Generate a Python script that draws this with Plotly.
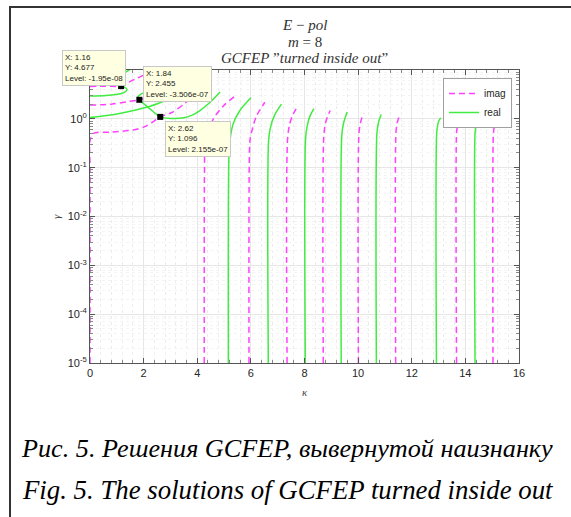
import plotly.graph_objects as go

# ---------------- data ----------------
# imaginary-part zero contours (magenta dashed): kappa and gamma per curve
imag_kappa = [
    [0, 0.6, 1.16, 1.3, 1.67, 2.1, 2.45],
    [0, 0.8, 1.4, 1.84, 2.2, 2.7, 3.2],
    [0, 0, 0, 0.12, 0.8, 1.6, 2.0, 2.3, 2.62, 3.05, 3.5, 4.0, 4.35],
    [4.26, 4.27, 4.29, 4.4, 4.6, 5.0, 5.4],
    [5.93, 5.95, 5.98, 6.05, 6.2, 6.52],
    [7.35, 7.37, 7.45, 7.58, 7.76],
    [8.70, 8.72, 8.78, 8.86, 8.96],
    [10.01, 10.03, 10.08, 10.14, 10.21],
    [11.40, 11.41, 11.45, 11.49, 11.53],
    [13.67, 13.67, 13.70, 13.73, 13.76],
    [15.03, 15.04, 15.06, 15.08, 15.10],
]
imag_gamma = [
    [4.6, 4.65, 4.677, 5.1, 6.46, 8.3, 10.5],
    [1.91, 2.0, 2.25, 2.455, 2.85, 3.6, 4.6],
    [1e-5, 0.1, 0.355, 0.501, 0.537, 0.589, 0.676, 0.832, 1.096, 1.349, 1.995, 3.467, 4.169],
    [1e-5, 0.1, 0.263, 0.501, 1.0, 1.9, 2.884],
    [1e-5, 0.251, 0.417, 0.6, 1.12, 2.188],
    [1e-5, 0.398, 0.794, 1.259, 1.862],
    [1e-5, 0.447, 0.794, 1.122, 1.479],
    [1e-5, 0.501, 0.794, 1.047, 1.288],
    [1e-5, 0.501, 0.794, 0.955, 1.096],
    [1e-5, 0.501, 0.708, 0.851, 0.955],
    [1e-5, 0.447, 0.603, 0.676, 0.741],
]

# real-part zero contours (green solid)
real_kappa = [
    [0, 0.6, 1.17, 1.33, 1.38, 1.28, 1.16, 1.10, 1.12, 1.3, 1.53],
    [0, 1.0, 2.0, 2.7, 3.09, 3.3, 3.5],
    [2.4, 1.9, 1.78, 1.84, 2.2, 2.62, 3.0, 3.5, 3.79, 4.1, 4.5, 4.85],
    [5.16, 5.18, 5.22, 5.34, 5.59, 6.0],
    [6.65, 6.66, 6.72, 6.88, 7.14],
    [8.03, 8.04, 8.1, 8.2, 8.35],
    [9.37, 9.39, 9.45, 9.52, 9.59],
    [10.68, 10.70, 10.75, 10.80, 10.86],
    [12.92, 12.93, 12.97, 13.02, 13.08],
    [14.36, 14.36, 14.39, 14.41, 14.44],
]
real_gamma = [
    [2.95, 3.02, 3.31, 3.63, 3.98, 4.47, 4.677, 5.75, 7.59, 8.9, 10.5],
    [1.06, 1.26, 1.66, 2.24, 2.95, 4.0, 5.6],
    [4.2, 3.2, 2.75, 2.455, 1.66, 1.096, 1.02, 1.05, 1.175, 1.479, 2.24, 3.55],
    [1e-5, 0.166, 0.363, 0.794, 1.479, 2.692],
    [1e-5, 0.355, 0.631, 1.175, 1.995],
    [1e-5, 0.398, 0.708, 1.122, 1.622],
    [1e-5, 0.447, 0.794, 1.072, 1.38],
    [1e-5, 0.501, 0.794, 1.0, 1.23],
    [1e-5, 0.501, 0.759, 0.933, 1.047],
    [1e-5, 0.501, 0.676, 0.794, 0.871],
]

# data tips
tip_x = [1.16, 1.84, 2.62]
tip_y = [4.677, 2.455, 1.096]
tip_level = ["-1.95e-08", "-3.506e-07", "2.155e-07"]

x_ticks = [0, 2, 4, 6, 8, 10, 12, 14, 16]
y_tickvals = [1e-5, 1e-4, 1e-3, 1e-2, 1e-1, 1, 10]
# the 10^1 label is hidden behind the first data tip in the original
y_ticktext = ["10<sup>-5</sup>", "10<sup>-4</sup>", "10<sup>-3</sup>", "10<sup>-2</sup>",
              "10<sup>-1</sup>", "10<sup>0</sup>", ""]

title_lines = ["<i>E</i> − <i>pol</i>", "<i>m</i> = 8",
               "<i>GCFEP</i> ”<i>turned inside out</i>”"]
caption_ru = "Рис. 5. Решения GCFEP, вывернутой наизнанку"
caption_en = "Fig. 5. The solutions of GCFEP turned inside out"

# ---------------- figure ----------------
MAG = "#ff40ff"
GRN = "#40ec40"

fig = go.Figure()
for i, (kx, gy) in enumerate(zip(imag_kappa, imag_gamma)):
    fig.add_trace(go.Scatter(x=kx, y=gy, mode="lines", name="imag",
                             legendgroup="imag", showlegend=(i == 0),
                             line=dict(color=MAG, width=1.5, dash="6px,4px",
                                       shape="spline", smoothing=0.8)))
for i, (kx, gy) in enumerate(zip(real_kappa, real_gamma)):
    fig.add_trace(go.Scatter(x=kx, y=gy, mode="lines", name="real",
                             legendgroup="real", showlegend=(i == 0),
                             line=dict(color=GRN, width=1.5,
                                       shape="spline", smoothing=0.8)))
fig.add_trace(go.Scatter(x=tip_x, y=tip_y, mode="markers", showlegend=False,
                         marker=dict(symbol="square", size=6, color="black")))

L, R, T, B = 90, 52, 70, 154
W, H = 571, 517
pw, ph = W - L - R, H - T - B


def px(xp):
    return (xp - L) / pw


def py(yp):
    return (H - B - yp) / ph


ann = []
# title lines
for txt, yp in zip(title_lines, [25, 42, 58]):
    ann.append(dict(text=txt, x=0.5, y=py(yp), xref="paper", yref="paper",
                    showarrow=False, xanchor="center", yanchor="middle",
                    font=dict(family="Liberation Serif", size=15, color="#333333")))
# axis labels
ann.append(dict(text="<i>κ</i>", x=0.5, y=py(392), xref="paper", yref="paper",
                showarrow=False, xanchor="center", yanchor="middle",
                font=dict(family="Liberation Serif", size=11, color="#444444")))
ann.append(dict(text="<i>γ</i>", x=px(56), y=py(217), xref="paper", yref="paper",
                showarrow=False, xanchor="center", yanchor="middle", textangle=-90,
                font=dict(family="Liberation Serif", size=11, color="#444444")))
# data tips
tip_boxes = [(62, 50), (143, 66), (165, 121)]
for (bx, by), xv, yv, lv in zip(tip_boxes, tip_x, tip_y, tip_level):
    ann.append(dict(text=f"X: {xv}<br>Y: {yv}<br>Level: {lv}",
                    x=px(bx), y=py(by), xref="paper", yref="paper",
                    showarrow=False, xanchor="left", yanchor="top", align="left",
                    bgcolor="#ffffe1", bordercolor="#c8c8c8", borderwidth=1, borderpad=2,
                    font=dict(family="Liberation Sans", size=8, color="#222222")))
# captions
for txt, yp, sz in zip([caption_ru, caption_en], [448, 490], [26.2, 26.8]):
    ann.append(dict(text=f"<i>{txt}</i>", x=px(287), y=py(yp), xref="paper", yref="paper",
                    showarrow=False, xanchor="center", yanchor="middle",
                    font=dict(family="Liberation Serif", size=sz, color="#000000")))

axis_common = dict(showline=True, linecolor="#555555", linewidth=1, mirror="ticks",
                   ticks="inside", ticklen=5, tickcolor="#555555",
                   showgrid=True, gridcolor="#e6e6e6", gridwidth=1, zeroline=False,
                   tickfont=dict(family="Liberation Sans", size=11, color="#262626"))

fig.update_layout(
    width=W, height=H,
    margin=dict(l=L, r=R, t=T, b=B),
    paper_bgcolor="white", plot_bgcolor="white",
    hovermode=False,
    xaxis=dict(range=[0, 16], tickvals=x_ticks,
               minor=dict(dtick=0.4, tick0=0, ticks="inside", ticklen=3,
                          tickcolor="#888888", showgrid=True,
                          gridcolor="#ececec", griddash="dot"),
               **axis_common),
    yaxis=dict(type="log", range=[-5, 1], tickvals=y_tickvals, ticktext=y_ticktext,
               minor=dict(dtick="D1", ticks="inside", ticklen=3,
                          tickcolor="#888888", showgrid=True,
                          gridcolor="#f4f4f4", griddash="dot"),
               **axis_common),
    legend=dict(x=px(512), y=py(78), xanchor="right", yanchor="top",
                bgcolor="white", bordercolor="#a0a0a0", borderwidth=1,
                font=dict(family="Liberation Sans", size=10, color="#262626"),
                itemwidth=30, tracegroupgap=0),
    annotations=ann,
    shapes=[dict(type="rect", xref="paper", yref="paper",
                 x0=px(10), x1=px(580), y0=py(7), y1=py(530),
                 line=dict(color="#333333", width=2), layer="above")],
)

fig.write_html("out.html", config={"displayModeBar": False, "staticPlot": True},
               post_script="document.body.style.margin='0px';")
